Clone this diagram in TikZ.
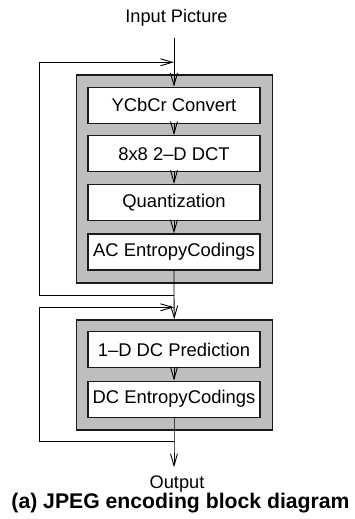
\documentclass[tikz,border=0pt]{standalone}
\usepackage{fontspec}
\setmainfont{Liberation Sans}
\usetikzlibrary{arrows.meta}
\definecolor{panelgray}{HTML}{BEBEBE}
\definecolor{edge}{HTML}{1A1A1A}
\tikzset{
  panel/.style={draw=edge, line width=1.6pt, fill=panelgray, inner sep=0pt},
  stage/.style={draw=edge, line width=1.2pt, fill=white, inner sep=0pt,
    minimum width=172pt, minimum height=36pt,
    font=\fontsize{18.4}{20}\selectfont},
  flow/.style={draw=black, line width=0.9pt},
  barb/.style={-{Straight Barb[length=12pt,width=7pt,line width=0.9pt]}},
  lbl/.style={font=\fontsize{18.2}{20}\selectfont, inner sep=0pt}
}
\begin{document}
\begin{tikzpicture}[x=1pt,y=-1pt]
\useasboundingbox (0,0) rectangle (354,519);
% panels
\node[panel, minimum width=196pt, minimum height=207.7pt] (g1) at (174.3,178.85) {};
\node[panel, minimum width=196pt, minimum height=110pt] (g2) at (174.3,375) {};
% stages
\node[stage] (ycc) at (174,105.3) {YCbCr Convert};
\node[stage] (dct) at (174,153.7) {8x8 2\textendash D DCT};
\node[stage] (qnt) at (174,202.5) {Quantization};
\node[stage] (ace) at (174,252) {AC EntropyCodings};
\node[stage] (pred) at (174,349.8) {1\textendash D DC Prediction};
\node[stage] (dce) at (174,399.2) {DC EntropyCodings};
% texts
\node[lbl, anchor=base] (inp) at (176.5,22.7) {Input Picture};
\node[lbl, anchor=base] (out) at (177,488) {Output};
\node[font=\fontsize{21.2}{23}\selectfont\bfseries, inner sep=0pt, anchor=base] (cap) at (180.5,508) {(a) JPEG encoding block diagram};
% junction coordinates
\coordinate (src) at (174,38);
\coordinate (j1) at (174,62.3);
\coordinate (j2) at (174,295);
\coordinate (j3) at (174,307.3);
\coordinate (j4) at (174,441);
\coordinate (oend) at (174,467.3);
\coordinate (l1) at (39.3,295);
\coordinate (l2) at (39.3,441);
% connectors
\draw[flow, barb] (src) -- (ycc.north);
\draw[flow, barb] (ycc.south) -- (dct.north);
\draw[flow, barb] (dct.south) -- (qnt.north);
\draw[flow, barb] (qnt.south) -- (ace.north);
\draw[flow, barb] (ace.south) -- (j2) -- (g2.north);
\draw[flow, barb] (j2) -- (l1) |- (j1);
\draw[flow, barb] (pred.south) -- (dce.north);
\draw[flow, barb] (dce.south) -- (j4) -- (oend);
\draw[flow, barb] (j4) -- (l2) |- (j3);
\end{tikzpicture}
\end{document}
